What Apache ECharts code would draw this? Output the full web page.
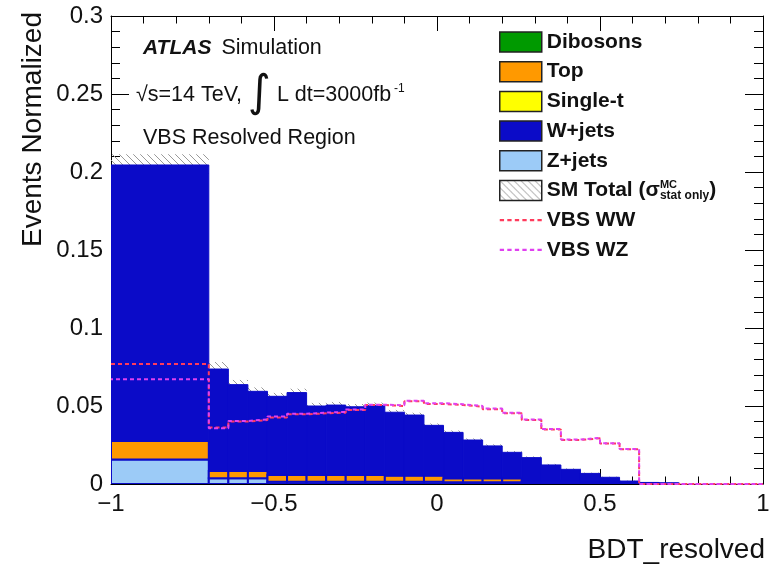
<!DOCTYPE html>
<html>
<head>
<meta charset="utf-8">
<script src="https://cdn.jsdelivr.net/npm/echarts@6/dist/echarts.min.js"></script>
<style>
  html, body { margin: 0; padding: 0; background: #fff; }
  #chart { width: 783px; height: 564px; }
</style>
</head>
<body>
<div id="chart"></div>
<script>
// Bin edges of the BDT_resolved histogram (first bin is wide, then 0.06 steps)
const edges = [-1, -0.7, -0.64, -0.58, -0.52, -0.46, -0.4, -0.34, -0.28, -0.22, -0.16,
  -0.1, -0.04, 0.02, 0.08, 0.14, 0.2, 0.26, 0.32, 0.38, 0.44, 0.5, 0.56, 0.62, 0.68,
  0.74, 0.8, 0.86, 0.92, 0.98, 1.0];

// Background contributions per bin (normalised)
const zjets = [0.0157, 0.0037, 0.0037, 0.0037, 0.0015, 0.0015, 0.0015, 0.0015, 0.0015, 0.0015,
  0.0015, 0.0015, 0.0015, 0.0012, 0.0012, 0.0012, 0.0012, 0.0008, 0.0008, 0.0008,
  0.0005, 0.0005, 0.0005, 0.0002, 0.0002, 0, 0, 0, 0, 0];
const singleTop = [0, 0, 0, 0, 0, 0, 0, 0, 0, 0, 0, 0, 0, 0, 0, 0, 0, 0, 0, 0, 0, 0, 0, 0, 0, 0, 0, 0, 0, 0];
const ttbar = [0.0119, 0.0046, 0.0046, 0.0046, 0.0043, 0.0043, 0.0043, 0.0043, 0.0043, 0.0043,
  0.0038, 0.0038, 0.0038, 0.0024, 0.0024, 0.0024, 0.0024, 0.0012, 0.0012, 0.0012,
  0.0006, 0.0006, 0.0006, 0.0002, 0.0002, 0, 0, 0, 0, 0];
const dibosons = [0, 0, 0, 0, 0, 0, 0, 0, 0, 0, 0, 0, 0, 0, 0, 0, 0, 0, 0, 0, 0, 0, 0, 0, 0, 0, 0, 0, 0, 0];
const wjets = [0.1769, 0.0654, 0.0554, 0.0511, 0.0504, 0.0528, 0.0442, 0.0448, 0.0437, 0.0446,
  0.0407, 0.0389, 0.0323, 0.0295, 0.0246, 0.0208, 0.0167, 0.0149, 0.0102, 0.0074,
  0.0057, 0.0032, 0.0008, 0.0006, 0.0001, 0, 0, 0, 0, 0];

// MC statistical uncertainty on the SM total
const statErr = [0.0068, 0.0045, 0.003, 0.0025, 0.0022, 0.0025, 0.002, 0.002, 0.0018, 0.0018,
  0.0015, 0.0015, 0.0012, 0.0012, 0.001, 0.001, 0.0008, 0.0008, 0.0007, 0.0006,
  0.0005, 0.0004, 0.0003, 0.0002, 0.0002, 0, 0, 0, 0, 0];

// Signal shapes
const vbsWW = [0.0769, 0.0362, 0.0400, 0.0410, 0.0427, 0.0447, 0.0453, 0.0457, 0.0474, 0.0506,
  0.0500, 0.0530, 0.0513, 0.0506, 0.0496, 0.0479, 0.0453, 0.0410, 0.0350, 0.0282,
  0.0293, 0.0260, 0.0222, 0, 0, 0, 0, 0, 0, 0];
const vbsWZ = [0.0672, 0.0358, 0.0404, 0.0414, 0.0432, 0.0450, 0.0458, 0.0462, 0.0478, 0.0508,
  0.0505, 0.0533, 0.0518, 0.0511, 0.0500, 0.0484, 0.0457, 0.0414, 0.0352, 0.0285,
  0.0296, 0.0262, 0.0224, 0, 0, 0, 0, 0, 0, 0];

const yTicks = { min: 0, max: 0.3, step: 0.05 };
const xTicks = { min: -1, max: 1, step: 0.5 };

const FONT = "'Liberation Sans', Arial, Helvetica, sans-serif";
const INK = '#111';
const BLUE_LINE = '#0b0bc8';
const WW_COLOR = '#ff3b5c';
const WZ_COLOR = '#e040f0';

// Diagonal hatch used for the MC stat band
function makeHatch() {
  const c = document.createElement('canvas');
  c.width = 7; c.height = 7;
  const g = c.getContext('2d');
  g.strokeStyle = '#999';
  g.lineWidth = 1;
  g.beginPath();
  g.moveTo(-2, -2); g.lineTo(9, 9);
  g.moveTo(-2, 5); g.lineTo(2, 9);
  g.moveTo(5, -2); g.lineTo(9, 2);
  g.stroke();
  return { image: c, repeat: 'repeat' };
}
const hatch = makeHatch();

// Short dashed stroke used as the legend key of the signal lines
const DASH_ICON = 'path://M0,0h4v2h-4z M7,0h4v2h-4z M14,0h4v2h-4z M21,0h4v2h-4z M28,0h4v2h-4z M35,0h4v2h-4z';

// Stack order from the bottom up
const stack = [
  { name: 'Z+jets', values: zjets, color: '#9ccbf7', stroke: BLUE_LINE, lw: 2 },
  { name: 'Single-t', values: singleTop, color: '#ffff00', stroke: BLUE_LINE, lw: 2 },
  { name: 'Top', values: ttbar, color: '#ff9900', stroke: BLUE_LINE, lw: 2 },
  { name: 'Dibosons', values: dibosons, color: '#009a00', stroke: BLUE_LINE, lw: 2 },
  { name: 'W+jets', values: wjets, color: '#0b0bc8', stroke: '#0b0bc8', lw: 1 }
];

const nBins = edges.length - 1;
const cumulative = new Array(nBins).fill(0);
const stackSeries = stack.map(function (comp) {
  const data = [];
  for (let i = 0; i < nBins; i++) {
    const lo = cumulative[i];
    const hi = lo + comp.values[i];
    cumulative[i] = hi;
    if (comp.values[i] > 0) data.push([edges[i], edges[i + 1], lo, hi]);
  }
  return {
    type: 'custom',
    name: comp.name,
    z: 3,
    clip: true,
    itemStyle: { color: comp.color, borderColor: comp.stroke, borderWidth: comp.lw },
    encode: { x: [0, 1], y: [2, 3] },
    data: data,
    renderItem: function (params, api) {
      const a = api.coord([api.value(0), api.value(3)]);
      const b = api.coord([api.value(1), api.value(2)]);
      return {
        type: 'rect',
        shape: { x: a[0], y: a[1], width: b[0] - a[0], height: b[1] - a[1] },
        style: { fill: comp.color, stroke: comp.stroke, lineWidth: comp.lw }
      };
    }
  };
});

// SM total +- stat band, drawn behind the stack
const bandData = [];
for (let i = 0; i < nBins; i++) {
  if (statErr[i] > 0) bandData.push([edges[i], edges[i + 1], cumulative[i] - statErr[i], cumulative[i] + statErr[i]]);
}
const bandSeries = {
  type: 'custom',
  name: 'SM Total',
  z: 2,
  clip: true,
  itemStyle: { color: hatch, borderColor: '#222', borderWidth: 1 },
  encode: { x: [0, 1], y: [2, 3] },
  data: bandData,
  renderItem: function (params, api) {
    const a = api.coord([api.value(0), api.value(3)]);
    const b = api.coord([api.value(1), api.value(2)]);
    return {
      type: 'rect',
      shape: { x: a[0], y: a[1], width: b[0] - a[0], height: b[1] - a[1] },
      style: { fill: hatch, stroke: null }
    };
  }
};

function stepLine(name, values, color, offset) {
  const pts = [];
  for (let i = 0; i < nBins; i++) pts.push([edges[i], values[i]]);
  pts.push([edges[nBins], values[nBins - 1]]);
  return {
    type: 'line',
    name: name,
    step: 'end',
    symbol: 'none',
    z: 5,
    data: pts,
    itemStyle: { color: color },
    lineStyle: { color: color, width: 2, type: [4, 3], dashOffset: offset },
    emphasis: { disabled: true }
  };
}

function minusFmt(v) {
  return v < 0 ? '\u2212' + Math.abs(v) : String(v);
}

const tickLine = { color: '#000', width: 1 };
const axisCommon = {
  axisLine: { show: true, onZero: false, lineStyle: { color: '#000', width: 1 } },
  splitLine: { show: false }
};

const boxKey = function (name, color) {
  return { name: name, icon: 'rect', itemStyle: { color: color, borderColor: '#222', borderWidth: 1.5 } };
};

const chart = echarts.init(document.getElementById('chart'), null, { renderer: 'canvas' });
chart.setOption({
  animation: false,
  backgroundColor: '#fff',
  grid: { left: 111, right: 20, top: 16, bottom: 80, containLabel: false },
  xAxis: [
    Object.assign({
      type: 'value', min: xTicks.min, max: xTicks.max, interval: xTicks.step, position: 'bottom',
      axisTick: { inside: true, length: 15, lineStyle: tickLine },
      minorTick: { show: true, splitNumber: 5, length: 7.5, lineStyle: tickLine },
      axisLabel: { fontSize: 24, fontFamily: FONT, color: INK, margin: 8, formatter: minusFmt }
    }, axisCommon),
    Object.assign({
      type: 'value', min: xTicks.min, max: xTicks.max, interval: xTicks.step, position: 'top',
      axisTick: { inside: true, length: 15, lineStyle: tickLine },
      minorTick: { show: true, splitNumber: 5, length: 7.5, lineStyle: tickLine },
      axisLabel: { show: false }
    }, axisCommon)
  ],
  yAxis: [
    Object.assign({
      type: 'value', min: yTicks.min, max: yTicks.max, interval: yTicks.step, position: 'left',
      axisTick: { inside: true, length: 18, lineStyle: tickLine },
      minorTick: { show: true, splitNumber: 5, length: 9, lineStyle: tickLine },
      axisLabel: { fontSize: 24, fontFamily: FONT, color: INK, margin: 8 }
    }, axisCommon),
    Object.assign({
      type: 'value', min: yTicks.min, max: yTicks.max, interval: yTicks.step, position: 'right',
      axisTick: { inside: true, length: 18, lineStyle: tickLine },
      minorTick: { show: true, splitNumber: 5, length: 9, lineStyle: tickLine },
      axisLabel: { show: false }
    }, axisCommon)
  ],
  legend: {
    orient: 'vertical',
    left: 499,
    top: 31,
    padding: 0,
    itemWidth: 42,
    itemHeight: 20,
    itemGap: 7.7,
    selectedMode: false,
    textStyle: {
      fontFamily: FONT, fontSize: 21, fontWeight: 'bold', color: INK, lineHeight: 22,
      rich: {
        t: { fontFamily: FONT, fontSize: 21, fontWeight: 'bold', color: INK, lineHeight: 22 },
        g: { fontFamily: FONT, fontSize: 21, color: INK, lineHeight: 22 },
        u: { fontFamily: FONT, fontSize: 11, fontWeight: 'bold', color: INK, lineHeight: 11, verticalAlign: 'top', width: 0 },
        d: { fontFamily: FONT, fontSize: 12, fontWeight: 'bold', color: INK, lineHeight: 11, verticalAlign: 'bottom' }
      }
    },
    formatter: function (name) {
      if (name === 'SM Total') return '{t|SM Total (}{g|\u03c3}{u|MC}{d|stat only}{t|)}';
      return name;
    },
    data: [
      boxKey('Dibosons', '#009a00'),
      boxKey('Top', '#ff9900'),
      boxKey('Single-t', '#ffff00'),
      boxKey('W+jets', '#0b0bc8'),
      boxKey('Z+jets', '#9ccbf7'),
      boxKey('SM Total', hatch),
      { name: 'VBS WW', icon: DASH_ICON, itemStyle: { color: WW_COLOR, borderWidth: 0 } },
      { name: 'VBS WZ', icon: DASH_ICON, itemStyle: { color: WZ_COLOR, borderWidth: 0 } }
    ]
  },
  graphic: [
    {
      type: 'text', x: 143, y: 48,
      style: {
        text: '{a|ATLAS}{b|Simulation}',
        verticalAlign: 'middle',
        rich: {
          a: { fontFamily: FONT, fontSize: 21, fontWeight: 'bold', fontStyle: 'italic', fill: INK },
          b: { fontFamily: FONT, fontSize: 21.5, fill: INK, padding: [0, 0, 0, 10] }
        }
      }
    },
    {
      type: 'text', x: 136, y: 95,
      style: {
        text: '{n|\u221as=14 TeV, }{i|\u222b}{n| L dt=3000fb}{s|-1}',
        verticalAlign: 'middle',
        rich: {
          n: { fontFamily: FONT, fontSize: 21.5, fill: INK, lineHeight: 48 },
          i: { fontFamily: "'DejaVu Sans', " + FONT, fontSize: 44, fill: INK, lineHeight: 48 },
          s: { fontFamily: FONT, fontSize: 12, fill: INK, lineHeight: 12, verticalAlign: 'top', padding: [12, 0, 0, 3] }
        }
      }
    },
    {
      type: 'text', x: 143, y: 138,
      style: { text: 'VBS Resolved Region', fontFamily: FONT, fontSize: 21.5, fill: INK, verticalAlign: 'middle' }
    },
    {
      type: 'text', x: 33, y: 12, rotation: Math.PI / 2,
      style: { text: 'Events Normalized', fontFamily: FONT, fontSize: 28, fill: INK, align: 'right', verticalAlign: 'middle' }
    },
    {
      type: 'text', x: 765, y: 550,
      style: { text: 'BDT_resolved', fontFamily: FONT, fontSize: 28, fill: INK, align: 'right', verticalAlign: 'middle' }
    }
  ],
  series: [bandSeries].concat(stackSeries, [
    stepLine('VBS WW', vbsWW, WW_COLOR, 0),
    stepLine('VBS WZ', vbsWZ, WZ_COLOR, 2)
  ])
});
</script>
</body>
</html>
